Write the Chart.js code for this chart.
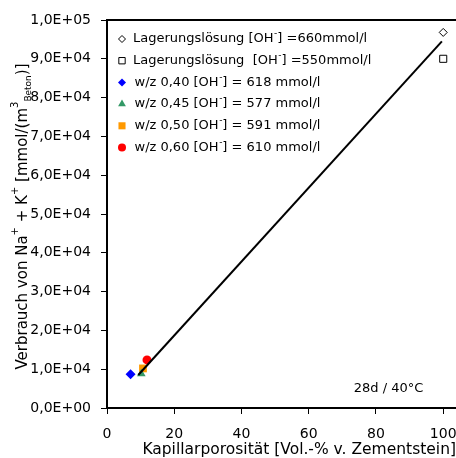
<!DOCTYPE html>
<html><head><meta charset="utf-8">
<script src="https://cdn.jsdelivr.net/npm/chart.js@4/dist/chart.umd.min.js"></script>
<style>html,body{margin:0;padding:0;background:#fff;overflow:hidden;}#wrap{width:456px;height:458px;position:relative;overflow:hidden;}canvas{display:block;}</style>
</head><body><div id="wrap"><canvas id="c" width="462" height="458"></canvas></div>
<script>
const seriesNames = [
  'Lagerungslösung [OH⁻] =660mmol/l',
  'Lagerungslösung  [OH⁻] =550mmol/l',
  'w/z 0,40 [OH⁻] = 618 mmol/l',
  'w/z 0,45 [OH⁻] = 577 mmol/l',
  'w/z 0,50 [OH⁻] = 591 mmol/l',
  'w/z 0,60 [OH⁻] = 610 mmol/l'
];
const porosity = [100, 100, 7.0, 10.2, 10.7, 11.9];
const consumption = [96800, 90000, 8700, 8800, 10200, 12400];
const trendX = [9.3, 99.6];
const trendY = [8500, 94500];
const xTicks = [0, 20, 40, 60, 80, 100];
const xTickLabels = ['0', '20', '40', '60', '80', '100'];
const yTicks = [0, 10000, 20000, 30000, 40000, 50000, 60000, 70000, 80000, 90000, 100000];
const yTickLabels = ['0,0E+00','1,0E+04','2,0E+04','3,0E+04','4,0E+04','5,0E+04','6,0E+04','7,0E+04','8,0E+04','9,0E+04','1,0E+05'];
const xTitle = 'Kapillarporosität [Vol.-% v. Zementstein]';
const yTitleParts = [['Verbrauch von Na','n'],['+','sup'],[' + K','n'],['+','sup'],[' [mmol/(m','n'],['3','sup'],['Beton','sub'],[')]','n']];
const note = '28d / 40°C';

const FONT = "'DejaVu Sans', sans-serif";
const styles = [
  {ps:'rectRot', r:4, fill:'#ffffff', stroke:'#000000', bw:1, lr:3.5},
  {ps:'rect', r:5, fill:'#ffffff', stroke:'#000000', bw:1, lr:4.5},
  {ps:'rectRot', r:5, fill:'#0000ff', stroke:'#0000ff', bw:0, lr:4},
  {ps:'triangle', r:5, fill:'#339966', stroke:'#339966', bw:0, lr:4.5},
  {ps:'rect', r:5.5, fill:'#ff9900', stroke:'#ff9900', bw:0, lr:5},
  {ps:'circle', r:4.5, fill:'#ff0000', stroke:'#ff0000', bw:0, lr:4}
];

Chart.defaults.font.family = FONT;

const datasets = [{
  label: 'trend',
  data: trendX.map((x, i) => ({x: x, y: trendY[i]})),
  showLine: true, borderColor: '#000', borderWidth: 2, pointRadius: 0, order: 0, fill: false
}];
seriesNames.forEach((name, i) => {
  const s = styles[i];
  datasets.push({
    label: name,
    data: [{x: porosity[i], y: consumption[i]}],
    pointStyle: s.ps, pointRadius: s.r, pointBackgroundColor: s.fill,
    pointBorderColor: s.stroke, pointBorderWidth: s.bw, showLine: false, order: 1 + i
  });
});

function drawMarker(ctx, s, x, y, r) {
  ctx.save();
  ctx.fillStyle = s.fill; ctx.strokeStyle = s.stroke; ctx.lineWidth = s.bw;
  if (Chart.helpers && Chart.helpers.drawPoint) {
    Chart.helpers.drawPoint(ctx, {pointStyle: s.ps, radius: r, borderWidth: s.bw, rotation: 0}, x, y);
  }
  ctx.restore();
}

const decor = {
  id: 'decor',
  afterDraw(chart) {
    const ctx = chart.ctx, a = chart.chartArea;
    ctx.save();
    ctx.strokeStyle = '#000'; ctx.lineWidth = 2;
    ctx.beginPath(); ctx.moveTo(a.left - 1, a.top); ctx.lineTo(a.right, a.top); ctx.stroke();

    const lx = 122, tx = 133, ly0 = 39, dy = 21.7;
    seriesNames.forEach((name, i) => {
      const y = ly0 + i * dy;
      drawMarker(ctx, styles[i], lx, y, styles[i].lr);
      ctx.fillStyle = '#000'; ctx.textBaseline = 'middle'; ctx.textAlign = 'left';
      const parts = name.split('⁻');
      let x = tx + (i >= 2 ? 1.5 : 0);
      ctx.font = '13px ' + FONT;
      ctx.fillText(parts[0], x, y); x += ctx.measureText(parts[0]).width;
      ctx.font = '9px ' + FONT;
      ctx.fillText('-', x + 0.5, y - 5); x += ctx.measureText('-').width + 0.5;
      ctx.font = '13px ' + FONT;
      ctx.fillText(parts[1], x, y);
    });

    ctx.font = '13px ' + FONT; ctx.textAlign = 'center'; ctx.textBaseline = 'middle';
    ctx.fillText(note, 388.5, 389);

    ctx.translate(27, 216.5); ctx.rotate(-Math.PI / 2);
    ctx.textAlign = 'left'; ctx.textBaseline = 'alphabetic';
    const fontFor = t => t === 'n' ? '15px ' + FONT : (t === 'sup' ? '10px ' + FONT : '9px ' + FONT);
    const offFor = t => t === 'n' ? 0 : (t === 'sup' ? -9 : 4);
    let total = 0;
    yTitleParts.forEach(p => { ctx.font = fontFor(p[1]); total += ctx.measureText(p[0]).width; });
    let u = -total / 2;
    yTitleParts.forEach(p => {
      ctx.font = fontFor(p[1]);
      ctx.fillText(p[0], u, offFor(p[1]));
      u += ctx.measureText(p[0]).width;
    });
    ctx.restore();
  }
};

new Chart(document.getElementById('c').getContext('2d'), {
  type: 'scatter',
  data: {datasets: datasets},
  options: {
    responsive: false, animation: false, devicePixelRatio: 1,
    layout: {padding: {top: 20, left: 0, right: 0, bottom: 0}},
    plugins: {legend: {display: false}, tooltip: {enabled: false}},
    scales: {
      x: {
        type: 'linear', min: 0, max: 103.8,
        afterBuildTicks: s => { s.ticks = xTicks.map(v => ({value: v})); },
        afterFit: s => { s.height = 50; s.paddingLeft = 0; s.paddingRight = 0; },
        grid: {drawOnChartArea: false, drawTicks: true, tickLength: 6, color: '#000', lineWidth: 1},
        border: {display: true, color: '#000', width: 2},
        ticks: {color: '#000', font: {size: 14}, padding: 12, maxRotation: 0, autoSkip: false,
                callback: v => xTickLabels[xTicks.indexOf(v)]},
        title: {display: true, text: xTitle, align: 'end', color: '#000', font: {size: 15.5, lineHeight: 1}, padding: {top: 0, bottom: 0, left: 0, right: 1}}
      },
      y: {
        type: 'linear', min: 0, max: 100000,
        afterBuildTicks: s => { s.ticks = yTicks.map(v => ({value: v})); },
        afterFit: s => { s.width = 107; s.paddingTop = 0; s.paddingBottom = 0; },
        grid: {drawOnChartArea: false, drawTicks: true, tickLength: 6, color: '#000', lineWidth: 1},
        border: {display: true, color: '#000', width: 2},
        ticks: {color: '#000', font: {size: 14}, padding: 10, autoSkip: false,
                callback: v => yTickLabels[yTicks.indexOf(v)]}
      }
    }
  },
  plugins: [decor]
});
</script></body></html>
